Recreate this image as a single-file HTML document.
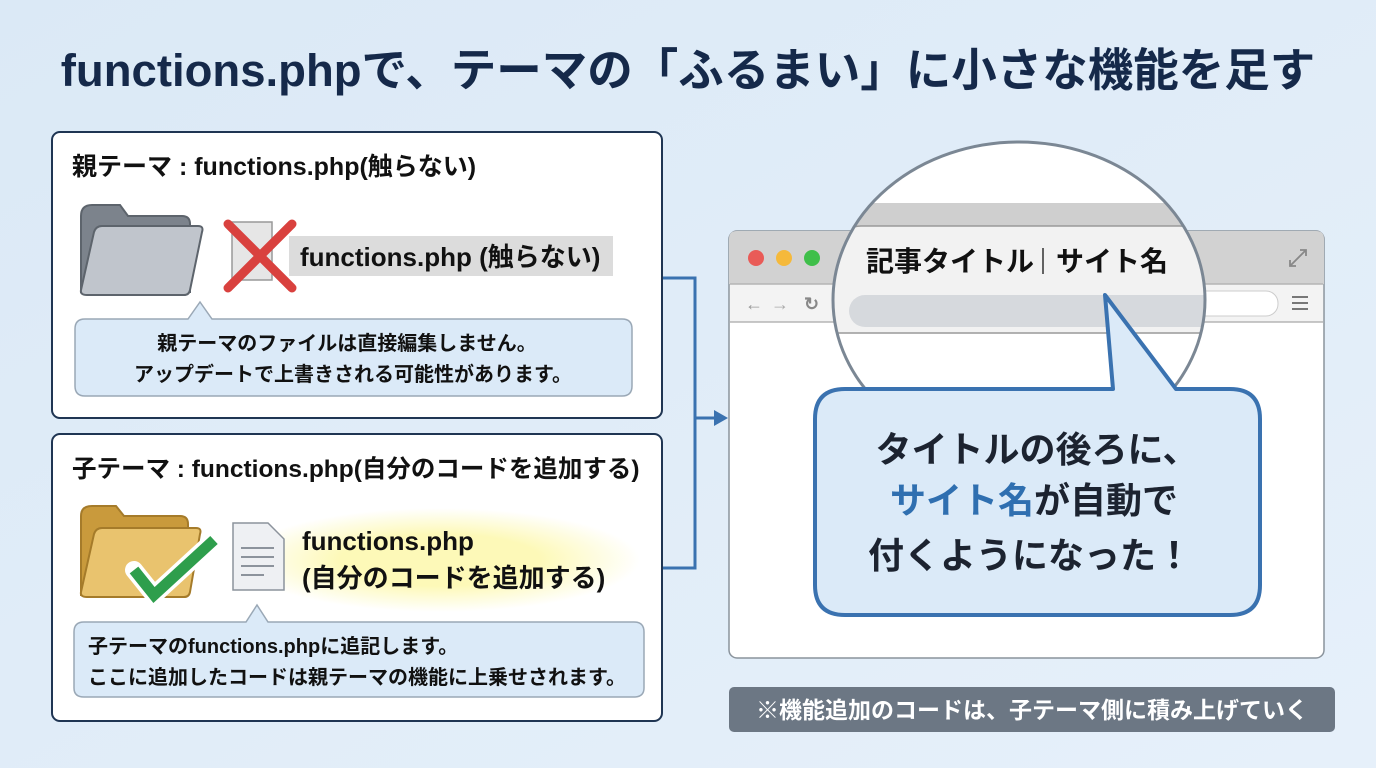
<!DOCTYPE html>
<html><head><meta charset="utf-8"><style>
html,body{margin:0;padding:0;width:1376px;height:768px;overflow:hidden;background:#e1edf8}
svg text{font-family:"Liberation Sans","Noto Sans CJK JP",sans-serif;font-weight:bold}
</style></head><body>
<svg width="1376" height="768" viewBox="0 0 1376 768" xmlns="http://www.w3.org/2000/svg">
<defs>
<linearGradient id="bg" x1="0" y1="0" x2="1" y2="1"><stop offset="0" stop-color="#dbe9f6"/><stop offset="1" stop-color="#e6f0fa"/></linearGradient>
<clipPath id="lens"><ellipse cx="1019" cy="300" rx="186" ry="158"/></clipPath>
<radialGradient id="glow" cx="0.5" cy="0.5" r="0.5"><stop offset="0.5" stop-color="#fdf9b8"/><stop offset="1" stop-color="#fdf9b8" stop-opacity="0"/></radialGradient>
</defs>
<rect width="1376" height="768" fill="url(#bg)"/>
<text x="688" y="86" text-anchor="middle" font-size="45.5" fill="#15294a">functions.phpで、テーマの「ふるまい」に小さな機能を足す</text>

<!-- connectors -->
<path d="M662 278 H695 V568 H662" fill="none" stroke="#3a72b0" stroke-width="3"/>
<path d="M695 418 H716" stroke="#3a72b0" stroke-width="3"/>
<path d="M728 418 L714 410 L714 426 Z" fill="#3a72b0"/>

<!-- panel 1 -->
<rect x="52" y="132" width="610" height="286" rx="8" fill="#fff" stroke="#1f3553" stroke-width="2"/>
<text x="72" y="175" font-size="25" fill="#111">親テーマ : functions.php(触らない)</text>
<path d="M81 216 Q81 205 92 205 H120 L128 216 H182 Q190 216 190 224 V292 H81 Z" fill="#7c838c" stroke="#5d646c" stroke-width="2"/>
<path d="M94 232 Q96 226 102 226 H198 Q204 226 202 232 L190 290 Q189 295 184 295 H87 Q80 295 81 290 Z" fill="#c0c5cc" stroke="#5d646c" stroke-width="2"/>
<rect x="232" y="222" width="40" height="58" fill="#e6e6e6" stroke="#999" stroke-width="1.5"/>
<rect x="289" y="236" width="324" height="40" fill="#dcdcdc"/>
<path d="M228 224 L292 288 M292 224 L228 288" stroke="#d9413e" stroke-width="9" stroke-linecap="round"/>
<text x="300" y="266" font-size="26" fill="#111">functions.php (触らない)</text>
<path d="M75 329 Q75 319 85 319 H188 L200 302 L212 319 H622 Q632 319 632 329 V386 Q632 396 622 396 H85 Q75 396 75 386 Z" fill="#dbeaf8" stroke="#9aa8b6" stroke-width="1.5"/>
<text x="347" y="350" text-anchor="middle" font-size="20" fill="#111">親テーマのファイルは直接編集しません。</text>
<text x="353" y="381" text-anchor="middle" font-size="20" fill="#111">アップデートで上書きされる可能性があります。</text>

<!-- panel 2 -->
<rect x="52" y="434" width="610" height="287" rx="8" fill="#fff" stroke="#1f3553" stroke-width="2"/>
<text x="72" y="477" font-size="24.5" fill="#111">子テーマ : functions.php(自分のコードを追加する)</text>
<ellipse cx="440" cy="560" rx="200" ry="52" fill="url(#glow)"/>
<path d="M81 516 Q81 506 92 506 H116 L124 516 H180 Q188 516 188 524 V595 H81 Z" fill="#c99a3c" stroke="#a57b2a" stroke-width="2"/>
<path d="M94 534 Q96 528 102 528 H196 Q202 528 200 534 L190 592 Q189 597 184 597 H87 Q80 597 81 592 Z" fill="#e9c36e" stroke="#a57b2a" stroke-width="2"/>
<path d="M134 570 L154 595 L214 540" fill="none" stroke="#fff" stroke-width="18" stroke-linecap="round" stroke-linejoin="round"/>
<path d="M134 570 L154 595 L214 540" fill="none" stroke="#2e9e4c" stroke-width="11"/>
<path d="M233 523 H268 L284 539 V590 H233 Z" fill="#eef0f3" stroke="#8c939c" stroke-width="1.5"/>
<path d="M241 548 H274 M241 557 H274 M241 566 H274 M241 575 H264" stroke="#8c939c" stroke-width="2"/>
<text x="302" y="550" font-size="26" fill="#111">functions.php</text>
<text x="302" y="587" font-size="26" fill="#111">(自分のコードを追加する)</text>
<path d="M74 632 Q74 622 84 622 H246 L257 605 L268 622 H634 Q644 622 644 632 V688 Q644 697 634 697 H84 Q74 697 74 688 Z" fill="#dbeaf8" stroke="#9aa8b6" stroke-width="1.5"/>
<text x="88" y="653" font-size="20" fill="#111">子テーマのfunctions.phpに追記します。</text>
<text x="88" y="684" font-size="20" fill="#111">ここに追加したコードは親テーマの機能に上乗せされます。</text>

<!-- browser -->
<rect x="729" y="231" width="595" height="427" rx="8" fill="#fff" stroke="#8a939c" stroke-width="1.5"/>
<path d="M729 284 V239 Q729 231 737 231 H1316 Q1324 231 1324 239 V284 Z" fill="#d2d2d2"/>
<rect x="730" y="284" width="593" height="38" fill="#f3f3f3"/>
<path d="M730 284 H1323 M730 322 H1323" stroke="#b5b5b5" stroke-width="1.5"/>
<circle cx="756" cy="258" r="8" fill="#e95b57"/><circle cx="784" cy="258" r="8" fill="#f5b93b"/><circle cx="812" cy="258" r="8" fill="#3fbf4a"/>
<text x="745" y="310" font-size="18" fill="#999" font-weight="normal">←</text>
<text x="771" y="310" font-size="18" fill="#aaa" font-weight="normal">→</text>
<text x="804" y="310" font-size="18" fill="#888" font-weight="normal">↻</text>
<rect x="850" y="291" width="428" height="25" rx="12" fill="#fff" stroke="#ccc"/>
<path d="M1292 297 H1308 M1292 303 H1308 M1292 309 H1308" stroke="#777" stroke-width="2"/>
<path d="M1290 266 L1306 250 M1300 250 H1306 V256 M1290 260 V266 H1296" fill="none" stroke="#888" stroke-width="1.8"/>

<!-- lens -->
<g clip-path="url(#lens)">
<rect x="820" y="130" width="400" height="340" fill="#fff"/>
<rect x="820" y="203" width="400" height="82" fill="#cfcfcf"/>
<path d="M818 290 Q832 284 836 268 L842 240 Q846 226 861 226 H1180 Q1193 226 1197 240 L1203 268 Q1207 284 1221 290 Z" fill="#f2f2f2" stroke="#9a9a9a" stroke-width="1.5"/>
<rect x="820" y="285" width="400" height="48" fill="#f2f2f2"/>
<path d="M820 333 H1220" stroke="#999" stroke-width="1.5"/>
<rect x="849" y="295" width="400" height="32" rx="16" fill="#d6d9dd"/>
<text x="866" y="271" font-size="28" fill="#111">記事タイトル</text>
<path d="M1043 248 V274" stroke="#333" stroke-width="1.5"/>
<text x="1056" y="271" font-size="28" fill="#111">サイト名</text>
</g>
<ellipse cx="1019" cy="300" rx="186" ry="158" fill="none" stroke="#7b8794" stroke-width="3"/>

<!-- bubble -->
<path d="M845 389 H1113 L1105 295 L1176 389 H1230 Q1260 389 1260 419 V585 Q1260 615 1230 615 H845 Q815 615 815 585 V419 Q815 389 845 389 Z" fill="#dbeaf8" stroke="#3a72b0" stroke-width="4" stroke-linejoin="round"/>
<text x="1037" y="462" text-anchor="middle" font-size="36" fill="#1c2330">タイトルの後ろに、</text>
<text x="1034" y="513" text-anchor="middle" font-size="36" fill="#1c2330"><tspan fill="#2f6fb0">サイト名</tspan>が自動で</text>
<text x="1030" y="568" text-anchor="middle" font-size="36" fill="#1c2330">付くようになった！</text>

<rect x="729" y="687" width="606" height="45" rx="5" fill="#6c7784"/>
<text x="1032" y="718" text-anchor="middle" font-size="23" fill="#fff">※機能追加のコードは、子テーマ側に積み上げていく</text>
</svg>
</body></html>
